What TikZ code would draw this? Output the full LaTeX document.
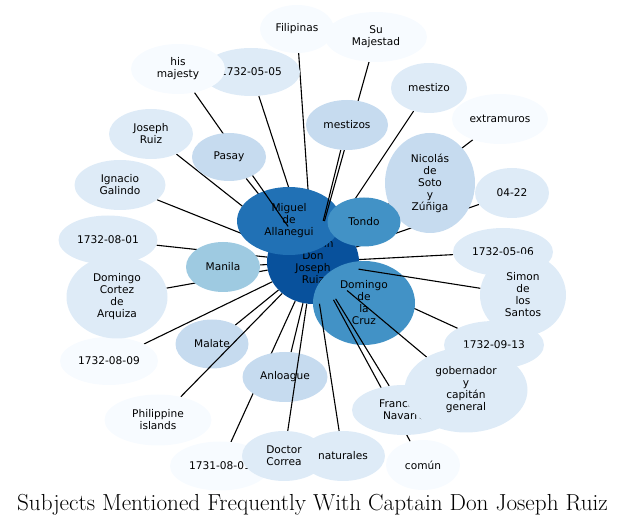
\documentclass[tikz,border=0pt]{standalone}
\usepackage{fontspec}
\usetikzlibrary{shapes.geometric}
\newfontfamily\lblfont{DejaVu Sans}

\definecolor{bl0}{HTML}{F7FBFF}
\definecolor{bl1}{HTML}{DEEBF7}
\definecolor{bl2}{HTML}{C6DBEF}
\definecolor{bl3}{HTML}{9ECAE1}
\definecolor{bl4}{HTML}{4292C6}
\definecolor{bl5}{HTML}{2171B5}
\definecolor{bl6}{HTML}{08519C}

\tikzset{
  subj/.style={ellipse, inner sep=0pt, align=center, font=\lblfont\fontsize{10.6}{12}\selectfont},
  sz/.style 2 args={minimum width=#1, minimum height=#2},
  tie/.style={line width=1.1pt}
}

\pgfdeclarelayer{under}
\pgfdeclarelayer{dark}
\pgfdeclarelayer{over}
\pgfsetlayers{under,dark,over,main}

\begin{document}
\begin{tikzpicture}[x=1pt, y=-1pt]
    \useasboundingbox (0,0) rectangle (625,526);

    % the ego node and the nodes that the edges run over
    \begin{pgfonlayer}{dark}
      \node[subj, fill=bl6, sz={92}{84}] (ruiz) at (313,262) {Captain\\Don\\Joseph\\Ruiz};
      \node[subj, fill=bl5, sz={104}{68}] (migu) at (289,221) {Miguel\\de\\Allanegui};
      \node[subj, fill=bl4, sz={102}{84}] (cruz) at (364,303) {Domingo\\de\\la\\Cruz};
      \node[subj, fill=bl2, sz={85}{50}] (anlo) at (285,377) {Anloague};
      \node[subj, fill=bl2, sz={73}{49}] (mala) at (212,344) {Malate};
    \end{pgfonlayer}

    \node[subj, fill=bl0, sz={74}{48}] (fili) at (297,29) {Filipinas};
    \node[subj, fill=bl0, sz={102}{50}] (suma) at (376,37) {Su\\Majestad};
    \node[subj, fill=bl1, sz={98}{48}] (d0505) at (251,72) {1732-05-05};
    \node[subj, fill=bl0, sz={94}{50}] (hism) at (178,69) {his\\majesty};
    \node[subj, fill=bl1, sz={84}{50}] (jrui) at (151,134) {Joseph\\Ruiz};
    \node[subj, fill=bl2, sz={74}{48}] (pasa) at (229,157) {Pasay};
    \node[subj, fill=bl2, sz={82}{50}] (mzos) at (347,125) {mestizos};
    \node[subj, fill=bl1, sz={76}{50}] (mzo) at (429,88) {mestizo};
    \node[subj, fill=bl0, sz={96}{50}] (extr) at (500,119) {extramuros};
    \node[subj, fill=bl2, sz={90}{100}] (nico) at (430,183) {Nicolás\\de\\Soto\\y\\Zúñiga};
    \node[subj, fill=bl1, sz={74}{50}] (d0422) at (512,193) {04-22};
    \node[subj, fill=bl4, sz={73}{49}] (tond) at (364,222) {Tondo};
    \node[subj, fill=bl1, sz={100}{48}] (d0506) at (503,252) {1732-05-06};
    \node[subj, fill=bl1, sz={86}{82}] (simo) at (523,295) {Simon\\de\\los\\Santos};
    \node[subj, fill=bl1, sz={100}{48}] (d0913) at (494,345) {1732-09-13};
    \node[subj, fill=bl1, sz={104}{50}] (fnav) at (404,410) {Francisco\\Navarro};
    \node[subj, fill=bl1, sz={123}{85}] (gobe) at (466,390) {gobernador\\y\\capitán\\general};
    \node[subj, fill=bl0, sz={74}{50}] (comu) at (423,465) {común};
    \node[subj, fill=bl0, sz={100}{49}] (d1731) at (220,466) {1731-08-01};
    \node[subj, fill=bl1, sz={84}{50}] (doct) at (284,456) {Doctor\\Correa};
    \node[subj, fill=bl1, sz={84}{50}] (natu) at (343,456) {naturales};
    \node[subj, fill=bl0, sz={107}{51}] (phil) at (158,420) {Philippine\\islands};
    \node[subj, fill=bl0, sz={98}{48}] (d0809) at (109,361) {1732-08-09};
    \node[subj, fill=bl1, sz={99}{49}] (d0801) at (108,240) {1732-08-01};
    \node[subj, fill=bl1, sz={101}{83}] (cort) at (117,297) {Domingo\\Cortez\\de\\Arquiza};
    \node[subj, fill=bl1, sz={91}{50}] (igna) at (120,185) {Ignacio\\Galindo};
    \node[subj, fill=bl3, sz={74}{50}] (mani) at (223,267) {Manila};

    \begin{pgfonlayer}{under}
      \foreach \n in {fili, d0505, jrui, igna, pasa, d0913, d1731, migu, cruz, tond, nico}
        \draw[tie] (\n) -- (ruiz);
    \end{pgfonlayer}
    \begin{pgfonlayer}{over}
      \foreach \n in {hism, suma, mzos, mzo, extr, d0422, d0506, simo, gobe, fnav, comu,
                      natu, doct, anlo, mala, phil, d0809, cort, d0801, mani}
        \draw[tie] (\n) -- (ruiz);
    \end{pgfonlayer}

    \node[font=\fontsize{23.2}{27}\selectfont, anchor=base] (titl) at (312.5,511)
      {Subjects Mentioned Frequently With Captain Don Joseph Ruiz};
\end{tikzpicture}
\end{document}
